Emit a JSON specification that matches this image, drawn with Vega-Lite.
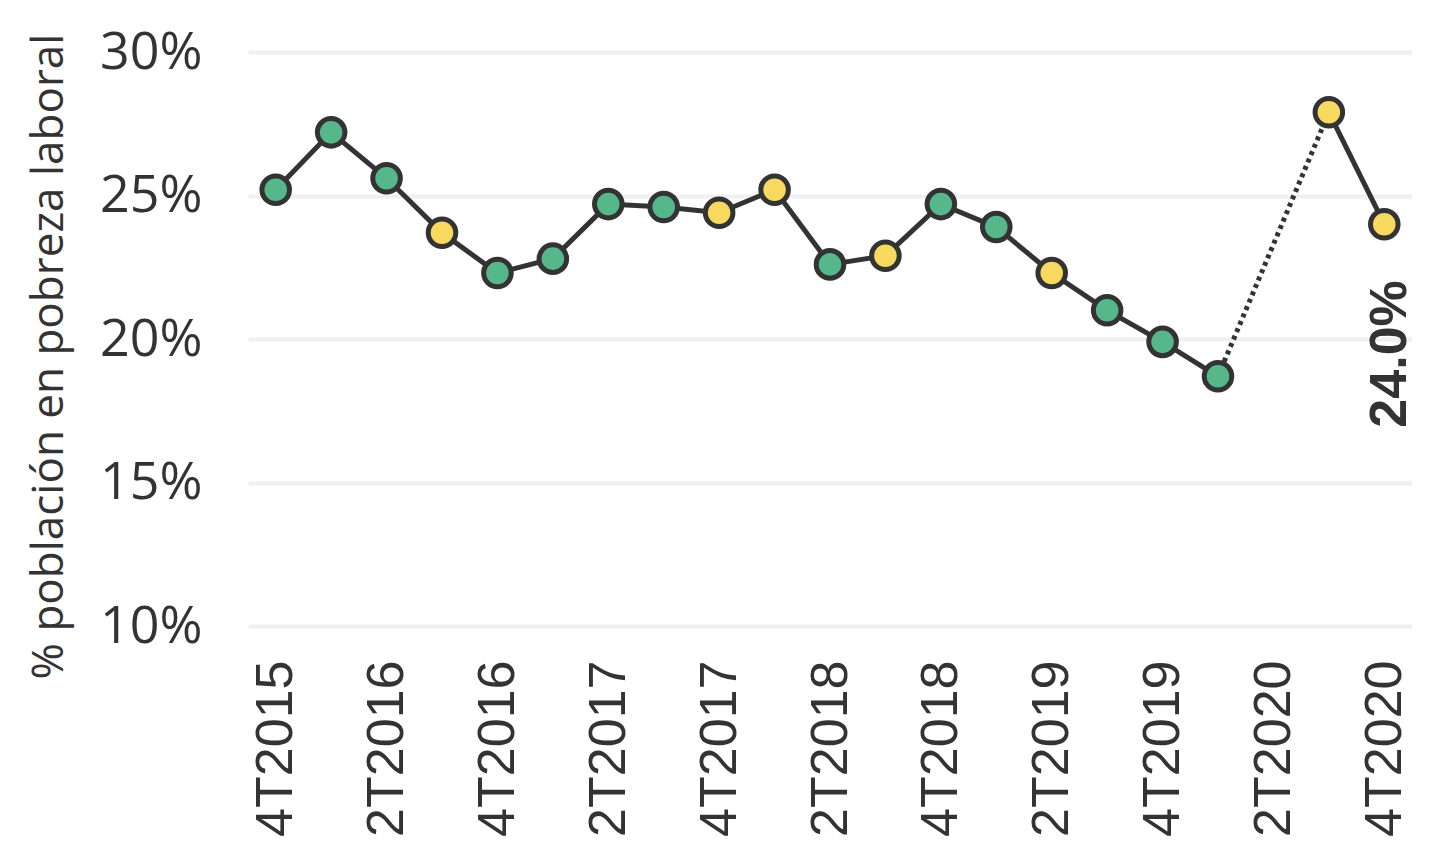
{
  "$schema": "https://vega.github.io/schema/vega-lite/v6.json",
  "width": 1164,
  "height": 574,
  "autosize": {"type": "none"},
  "padding": {"left": 248, "top": 52, "right": 40, "bottom": 230},
  "background": "white",
  "config": {"view": {"stroke": null}},
  "data": {"values": [
    {"q": "4T2015", "v": 0.252, "c": "g", "seg": "a"},
    {"q": "1T2016", "v": 0.272, "c": "g", "seg": "a"},
    {"q": "2T2016", "v": 0.256, "c": "g", "seg": "a"},
    {"q": "3T2016", "v": 0.237, "c": "y", "seg": "a"},
    {"q": "4T2016", "v": 0.223, "c": "g", "seg": "a"},
    {"q": "1T2017", "v": 0.228, "c": "g", "seg": "a"},
    {"q": "2T2017", "v": 0.247, "c": "g", "seg": "a"},
    {"q": "3T2017", "v": 0.246, "c": "g", "seg": "a"},
    {"q": "4T2017", "v": 0.244, "c": "y", "seg": "a"},
    {"q": "1T2018", "v": 0.252, "c": "y", "seg": "a"},
    {"q": "2T2018", "v": 0.226, "c": "g", "seg": "a"},
    {"q": "3T2018", "v": 0.229, "c": "y", "seg": "a"},
    {"q": "4T2018", "v": 0.247, "c": "g", "seg": "a"},
    {"q": "1T2019", "v": 0.239, "c": "g", "seg": "a"},
    {"q": "2T2019", "v": 0.223, "c": "y", "seg": "a"},
    {"q": "3T2019", "v": 0.210, "c": "g", "seg": "a"},
    {"q": "4T2019", "v": 0.199, "c": "g", "seg": "a"},
    {"q": "1T2020", "v": 0.187, "c": "g", "seg": "a"},
    {"q": "3T2020", "v": 0.279, "c": "y", "seg": "b"},
    {"q": "4T2020", "v": 0.240, "c": "y", "seg": "b"}
  ]},
  "encoding": {
    "x": {
      "field": "q", "type": "ordinal", "sort": null,
      "scale": {"type": "point", "padding": 0.5, "domain": ["4T2015","1T2016","2T2016","3T2016","4T2016","1T2017","2T2017","3T2017","4T2017","1T2018","2T2018","3T2018","4T2018","1T2019","2T2019","3T2019","4T2019","1T2020","2T2020","3T2020","4T2020"]},
      "axis": {
        "title": null,
        "values": ["4T2015","2T2016","4T2016","2T2017","4T2017","2T2018","4T2018","2T2019","4T2019","2T2020","4T2020"],
        "labelAngle": 270, "labelAlign": "right", "labelBaseline": "middle",
        "labelFont": "Liberation Sans", "labelFontSize": 52, "labelColor": "#333333",
        "labelPadding": 34, "ticks": false, "tickSize": 0, "domain": false, "grid": false
      }
    },
    "y": {
      "field": "v", "type": "quantitative",
      "scale": {"domain": [0.1, 0.3], "nice": false, "zero": false},
      "axis": {
        "title": "% población en pobreza laboral",
        "titleFont": "Open Sans", "titleFontSize": 44, "titleFontWeight": "normal", "titleColor": "#333333",
        "titleX": -186, "titleY": 304, "titleBaseline": "alphabetic",
        "values": [0.1, 0.15, 0.2, 0.25, 0.3], "format": ".0%",
        "labelFont": "Open Sans", "labelFontSize": 52, "labelColor": "#333333",
        "labelPadding": 46, "ticks": false, "tickSize": 0, "domain": false,
        "grid": true, "gridColor": "#f0f0f0", "gridWidth": 4
      }
    }
  },
  "layer": [
    {
      "mark": {"type": "line", "color": "#333333", "strokeWidth": 5},
      "encoding": {"detail": {"field": "seg"}}
    },
    {
      "transform": [{"filter": "datum.q === '1T2020' || datum.q === '3T2020'"}],
      "mark": {"type": "line", "color": "#333333", "strokeWidth": 5, "strokeDash": [4, 4]},
      "encoding": {}
    },
    {
      "mark": {"type": "point", "filled": true, "size": 760, "stroke": "#333333", "strokeWidth": 5, "opacity": 1, "fillOpacity": 1, "strokeOpacity": 1},
      "encoding": {
        "fill": {"field": "c", "type": "nominal", "scale": {"domain": ["g", "y"], "range": ["#55b78a", "#f7d95f"]}, "legend": null}
      }
    },
    {
      "transform": [{"filter": "datum.q === '4T2020'"}],
      "mark": {"type": "text", "angle": 270, "align": "right", "baseline": "middle", "dx": -56, "dy": 6, "font": "Liberation Sans", "fontSize": 52, "fontWeight": "bold", "color": "#333333"},
      "encoding": {"text": {"field": "v", "type": "quantitative", "format": ".1%"}}
    }
  ]
}
